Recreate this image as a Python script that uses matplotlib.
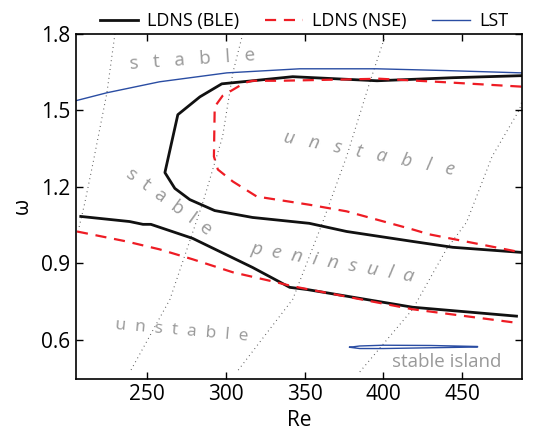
import numpy as np
import matplotlib.pyplot as plt

plt.rcParams['font.family'] = ['Open Sans', 'DejaVu Sans']

# LST neutral curve (upper branch)
lst_re = [205, 224.6, 258, 300.7, 347, 395.7, 440, 487.6]
lst_om = [1.538, 1.569, 1.612, 1.647, 1.663, 1.663, 1.656, 1.647]

# LST stable island
isl_re = [378.6, 385, 400, 430, 459.8, 459.8, 430, 400, 385, 378.6]
isl_om = [0.571, 0.576, 0.579, 0.578, 0.574, 0.572, 0.569, 0.566, 0.566, 0.571]

# LDNS (BLE) unstable region boundary
ble_up_re = [487.6, 444, 396, 342.5, 317, 297.5, 283.6, 269.6, 261.4, 267.7, 277.2,
             293, 317, 353, 376.7, 418.6, 444, 487.6]
ble_up_om = [1.636, 1.628, 1.616, 1.632, 1.616, 1.604, 1.553, 1.483, 1.256, 1.194, 1.150,
             1.107, 1.080, 1.057, 1.025, 0.986, 0.963, 0.943]
ble_lo_re = [208, 239, 247.5, 252.5, 279, 317, 340.6, 352, 418.6, 484.5]
ble_lo_om = [1.084, 1.064, 1.053, 1.053, 0.998, 0.884, 0.806, 0.797, 0.728, 0.693]

# LDNS (NSE)
nse_up_re = [487.6, 440, 397.6, 334, 317, 312, 298, 293, 292.5, 295, 304.5, 319.7,
             353, 376.7, 418.6, 429, 487.6]
nse_up_om = [1.593, 1.610, 1.624, 1.616, 1.616, 1.608, 1.557, 1.514, 1.319, 1.268, 1.221,
             1.162, 1.130, 1.104, 1.033, 1.014, 0.943]
nse_lo_re = [205.6, 237, 258, 279, 304.5, 332, 342.5, 418.6, 482]
nse_lo_om = [1.025, 0.986, 0.955, 0.916, 0.865, 0.826, 0.810, 0.720, 0.669]

# dotted guide lines
dot1_re = [229.7, 224.6, 216, 210.5, 206.5]
dot1_om = [1.80, 1.569, 1.30, 1.135, 1.03]
dot2_re = [310.8, 304.5, 298, 285.5, 279, 264.6, 239.2]
dot2_om = [1.80, 1.647, 1.397, 1.139, 1.021, 0.759, 0.474]
dot3_re = [400.5, 391.3, 376.7, 361.5, 342.5, 307]
dot3_om = [1.78, 1.608, 1.319, 1.061, 0.759, 0.474]
dot4_re = [490, 486.4, 469, 452.8, 440, 418.6, 385]
dot4_om = [1.58, 1.503, 1.319, 1.061, 0.955, 0.720, 0.474]

fig = plt.figure(figsize=(5.38, 4.34), dpi=100)
ax = fig.add_axes([0.1413, 0.127, 0.8290, 0.795])

for xr, yo in [(dot1_re, dot1_om), (dot2_re, dot2_om), (dot3_re, dot3_om), (dot4_re, dot4_om)]:
    ax.plot(xr, yo, linestyle=(0, (0.8, 3.2)), color='#555555', lw=0.8)

ax.plot(ble_up_re, ble_up_om, color='#111111', lw=2.0, label='LDNS (BLE)')
ax.plot(ble_lo_re, ble_lo_om, color='#111111', lw=2.0)
ax.plot(nse_up_re, nse_up_om, color='#ee1c24', lw=1.6, dashes=(5, 3.5), label='LDNS (NSE)')
ax.plot(nse_lo_re, nse_lo_om, color='#ee1c24', lw=1.6, dashes=(5, 3.5))
ax.plot(lst_re, lst_om, color='#2a4da3', lw=1.0, label='LST')
ax.plot(isl_re, isl_om, color='#2a4da3', lw=1.0)

gray = '#999999'
ax.text(279, 1.70, 's   t   a   b   l   e', color=gray, fontsize=13.5, rotation=4,
        ha='center', va='center')
ax.text(391, 1.332, 'u   n   s   t   a   b   l   e', color=gray, fontsize=13.5,
        rotation=-11, ha='center', va='center', style='italic')
ax.text(264, 1.143, 's  t  a  b  l  e', color=gray, fontsize=13.5, rotation=-36,
        ha='center', va='center')
ax.text(368, 0.905, 'p  e  n  i  n  s  u  l  a', color=gray, fontsize=14,
        rotation=-10, ha='center', va='center', style='italic')
ax.text(272, 0.634, 'u  n  s  t  a  b  l  e', color=gray, fontsize=12.5, rotation=-5,
        ha='center', va='center')
ax.text(440.5, 0.513, 'stable island', color=gray, fontsize=13.5, ha='center', va='center')

ax.set_xlim(205, 488)
ax.set_ylim(0.447, 1.8)
ax.set_xticks([250, 300, 350, 400, 450])
ax.set_yticks([0.6, 0.9, 1.2, 1.5, 1.8])
ax.tick_params(direction='in', top=True, right=True, labelsize=15, length=5, width=1,
               pad=4)
for s in ax.spines.values():
    s.set_linewidth(1.2)
ax.set_xlabel('Re', fontsize=15, labelpad=3)
ax.set_ylabel('ω', fontsize=15, labelpad=6)

ax.legend(loc='lower right', bbox_to_anchor=(0.99, 0.985), ncol=3, frameon=False,
          fontsize=13, handlelength=2.1, columnspacing=1.45, borderaxespad=0.1,
          handletextpad=0.5)

fig.savefig('out.png', dpi=100)
